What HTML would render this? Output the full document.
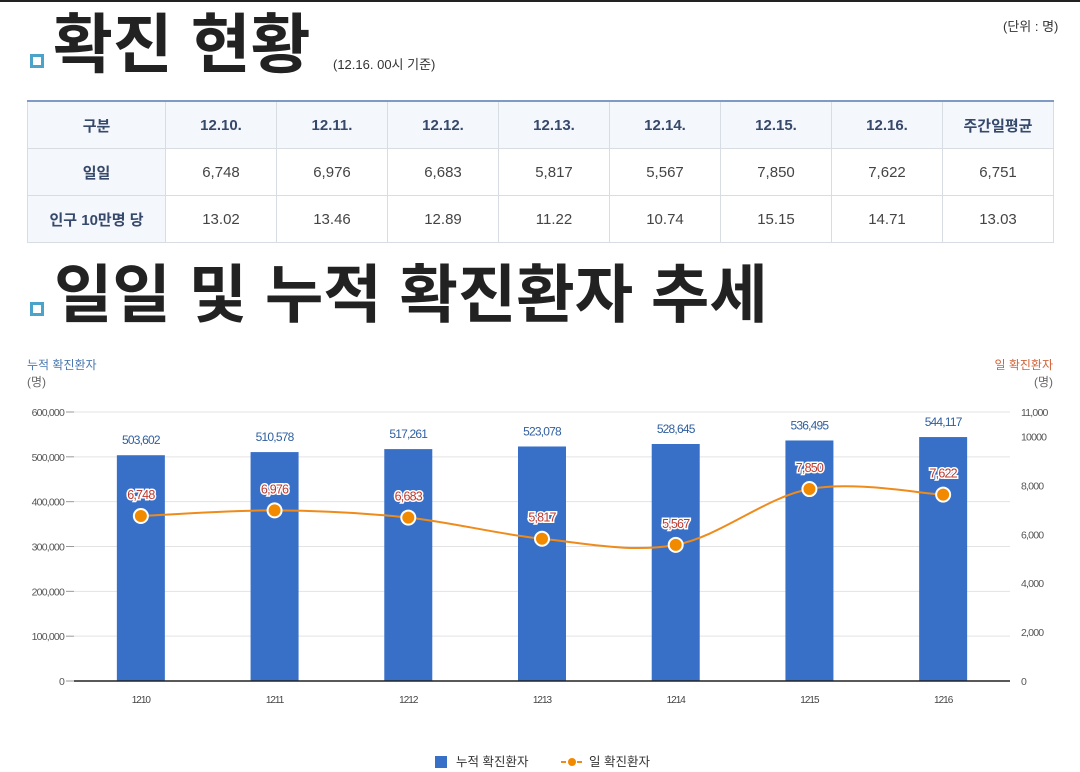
<!DOCTYPE html>
<html lang="ko"><head><meta charset="utf-8">
<style>
html,body{margin:0;padding:0;background:#fff;}
body{width:1080px;height:772px;position:relative;overflow:hidden;font-family:"Liberation Sans","Noto Sans CJK KR",sans-serif;}
.topline{position:absolute;left:0;top:0;width:1080px;height:2px;background:#222;}
.sq{position:absolute;width:8px;height:8px;border:3px solid #4ba3c9;background:#fff;}
.title{position:absolute;font-family:"Noto Sans CJK KR",sans-serif;font-weight:700;color:#222;line-height:1;white-space:nowrap;}
table{position:absolute;left:27px;top:100px;width:1026px;border-collapse:collapse;table-layout:fixed;border-top:2px solid #7f9bc4;font-family:"Liberation Sans","Noto Sans CJK KR",sans-serif;}
td{border:1px solid #d8dde4;height:46px;text-align:center;font-size:15px;color:#444;padding:0;}
tr.hd td{background:#f4f7fc;color:#36496b;font-weight:700;}
td.rh{background:#f4f7fc;color:#36496b;font-weight:700;}
.small{position:absolute;font-size:12px;color:#333;font-family:"Liberation Sans","Noto Sans CJK KR",sans-serif;}
</style></head><body>
<div class="topline"></div>
<div class="sq" style="left:30px;top:54px"></div>
<div class="title" style="left:53px;top:7px;font-size:65px;">확진 현황</div>
<div class="small" style="left:333px;top:54px;font-size:13px;">(12.16. 00시 기준)</div>
<div class="small" style="left:1003px;top:16px;font-size:13px;">(단위 : 명)</div>
<table>
<colgroup><col style="width:138px"><col style="width:111px"><col style="width:111px"><col style="width:111px"><col style="width:111px"><col style="width:111px"><col style="width:111px"><col style="width:111px"><col style="width:111px"></colgroup>
<tr class="hd"><td class="rh">구분</td><td>12.10.</td><td>12.11.</td><td>12.12.</td><td>12.13.</td><td>12.14.</td><td>12.15.</td><td>12.16.</td><td>주간일평균</td></tr>
<tr><td class="rh">일일</td><td>6,748</td><td>6,976</td><td>6,683</td><td>5,817</td><td>5,567</td><td>7,850</td><td>7,622</td><td>6,751</td></tr>
<tr><td class="rh">인구 10만명 당</td><td>13.02</td><td>13.46</td><td>12.89</td><td>11.22</td><td>10.74</td><td>15.15</td><td>14.71</td><td>13.03</td></tr>
</table>
<div class="sq" style="left:30px;top:302px"></div>
<div class="title" style="left:54px;top:259px;font-size:63.5px;">일일 및 누적 확진환자 추세</div>

<svg id="chart" width="1080" height="772" style="position:absolute;left:0;top:0"></svg>
<script>
const categories=["12.10","12.11","12.12","12.13","12.14","12.15","12.16"];
const cumulative=[503602,510578,517261,523078,528645,536495,544117];
const daily=[6748,6976,6683,5817,5567,7850,7622];
const leftTicks=[0,100000,200000,300000,400000,500000,600000];
const rightTicks=[0,2000,4000,6000,8000,10000,11000];
const fmt=v=>v.toLocaleString('en-US');
const NS="http://www.w3.org/2000/svg";
const svg=document.getElementById('chart');
const X0=74,X1=1010,Y0=681,Y1=412;
const step=(X1-X0)/categories.length;
const xc=i=>X0+step*(i+0.5);
const yL=v=>Y0-(v/600000)*(Y0-Y1);
const yR=v=>Y0-(v/11000)*(Y0-Y1);
function mk(tag,attrs,txt){const e=document.createElementNS(NS,tag);for(const k in attrs)e.setAttribute(k,attrs[k]);if(txt!==undefined)e.textContent=txt;svg.appendChild(e);return e;}
const FF='"Liberation Sans","Noto Sans CJK KR",sans-serif';
let t;
t=mk('text',{x:27,y:369,'font-size':12,fill:'#4a78b0','font-family':FF},'누적 확진환자');


t=mk('text',{x:27,y:386,'font-size':12,fill:'#666','font-family':FF},'(명)');


t=mk('text',{x:1053,y:369,'font-size':12,fill:'#d0643a','font-family':FF,'text-anchor':'end'},'일 확진환자');


t=mk('text',{x:1053,y:386,'font-size':12,fill:'#666','font-family':FF,'text-anchor':'end'},'(명)');


leftTicks.forEach(v=>{
  const y=yL(v);
  if(v>0){const g=mk('line',{x1:X0,x2:X1,y1:y,y2:y,stroke:'#e3e3e3','stroke-width':1});
  
  }
  const tk=mk('line',{x1:X0-8,x2:X0,y1:y,y2:y,stroke:'#999','stroke-width':1});
  
  
  const l=mk('text',{x:X0-10,y:y+4,'font-size':10.5,fill:'#555','text-anchor':'end','font-family':FF,'letter-spacing':'-0.8'},fmt(v));
  
  
});
rightTicks.forEach(v=>{
  const l=mk('text',{x:1021,y:yR(v)+4,'font-size':10.5,fill:'#555','font-family':FF,'letter-spacing':'-0.8'},v===10000?'10000':fmt(v));
  
  
});
categories.forEach((c,i)=>{
  const y=yL(cumulative[i]);
  const b=mk('rect',{x:xc(i)-24,y:y,width:48,height:Y0-y,fill:'#3870c8'});
  
  
  const l=mk('text',{x:xc(i),y:y-11,'font-size':12,fill:'#2f5f9f','text-anchor':'middle','font-family':FF,'letter-spacing':'-0.8'},fmt(cumulative[i]));
  
  
  const xl=mk('text',{x:xc(i),y:703,'font-size':10,fill:'#444','text-anchor':'middle','font-family':FF,'letter-spacing':'-1'},c.replace('.',''));
  
  
});
const bl=mk('line',{x1:X0,x2:X1,y1:Y0,y2:Y0,stroke:'#222','stroke-width':1.5});


const pts=daily.map((v,i)=>[xc(i),yR(v)]);
let d='M'+pts[0][0]+','+pts[0][1];
for(let i=0;i<pts.length-1;i++){
  const p0=pts[Math.max(0,i-1)],p1=pts[i],p2=pts[i+1],p3=pts[Math.min(pts.length-1,i+2)];
  const c1=[p1[0]+(p2[0]-p0[0])/6,p1[1]+(p2[1]-p0[1])/6];
  const c2=[p2[0]-(p3[0]-p1[0])/6,p2[1]-(p3[1]-p1[1])/6];
  d+=' C'+c1.join(',')+' '+c2.join(',')+' '+p2.join(',');
}
const ln=mk('path',{d:d,fill:'none',stroke:'#ef8b1a','stroke-width':2});


pts.forEach((p,i)=>{
  const c=mk('circle',{cx:p[0],cy:p[1],r:7,fill:'#f28a00',stroke:'#fff','stroke-width':2});
  
  
  const l=mk('text',{x:p[0],y:p[1]-17,'font-size':12.5,fill:'#c0392b',stroke:'#fff','stroke-width':3,'paint-order':'stroke','text-anchor':'middle','font-family':FF,'letter-spacing':'-0.8'},fmt(daily[i]));
  
  
});
const lg1=mk('rect',{x:435,y:756,width:12,height:12,fill:'#3870c8'});


const lt1=mk('text',{x:456,y:766,'font-size':12.5,fill:'#333','font-family':FF},'누적 확진환자');


const lg2=mk('line',{x1:561,x2:583,y1:762,y2:762,stroke:'#ef8b1a','stroke-width':2,'stroke-dasharray':'5,3'});


const lg3=mk('circle',{cx:572,cy:762,r:4,fill:'#f28a00'});


const lt2=mk('text',{x:589,y:766,'font-size':12.5,fill:'#333','font-family':FF},'일 확진환자');


</script>
</body></html>
